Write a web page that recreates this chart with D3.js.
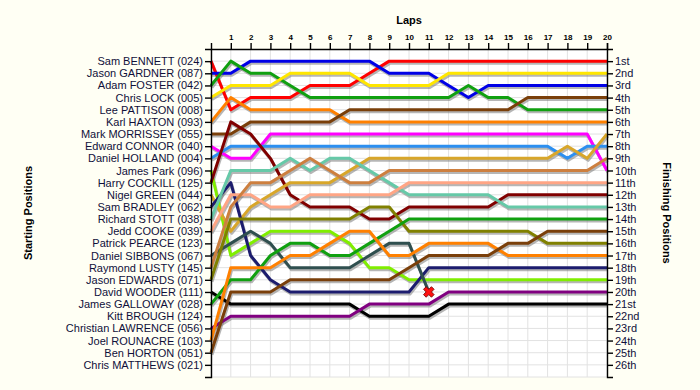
<!DOCTYPE html>
<html lang="en">
<head>
<meta charset="UTF-8">
<title>Lap Chart</title>
<script src="https://cdn.jsdelivr.net/npm/d3@7"></script>
<style>
  body { margin: 0; background: #fffff4; }
  text { font-family: "Liberation Sans", Arial, sans-serif; }
</style>
</head>
<body>
<svg></svg>
<script>
    // riders in starting order (row 1 = pole)
    const riders = [
        'Sam BENNETT (024)', 'Jason GARDNER (087)', 'Adam FOSTER (042)', 'Chris LOCK (005)',
        'Lee PATTISON (008)', 'Karl HAXTON (093)', 'Mark MORRISSEY (055)', 'Edward CONNOR (040)',
        'Daniel HOLLAND (004)', 'James Park (096)', 'Harry COCKILL (125)', 'Nigel GREEN (044)',
        'Sam BRADLEY (062)', 'Richard STOTT (038)', 'Jedd COOKE (039)', 'Patrick PEARCE (123)',
        'Daniel SIBBONS (067)', 'Raymond LUSTY (145)', 'Jason EDWARDS (071)', 'David WOODER (111)',
        'James GALLOWAY (028)', 'Kitt BROUGH (124)', 'Christian LAWRENCE (056)', 'Joel ROUNACRE (103)',
        'Ben HORTON (051)', 'Chris MATTHEWS (021)'
    ];
    const finishLabels = [
        '1st', '2nd', '3rd', '4th', '5th', '6th', '7th', '8th', '9th', '10th', '11th', '12th', '13th',
        '14th', '15th', '16th', '17th', '18th', '19th', '20th', '21st', '22nd', '23rd', '24th', '25th', '26th'
    ];
    const lapTicks = [1, 2, 3, 4, 5, 6, 7, 8, 9, 10, 11, 12, 13, 14, 15, 16, 17, 18, 19, 20];

    // position at lap 0..20 (lap 0 = grid); shorter array = retired
    const bennett   = [1, 5, 4, 4, 4, 3, 3, 3, 2, 1, 1, 1, 1, 1, 1, 1, 1, 1, 1, 1, 1];
    const gardner   = [2, 2, 1, 1, 1, 1, 1, 1, 1, 2, 2, 2, 3, 4, 3, 3, 3, 3, 3, 3, 3];
    const foster    = [3, 1, 2, 2, 3, 4, 4, 4, 4, 4, 4, 4, 4, 3, 4, 4, 5, 5, 5, 5, 5];
    const lock      = [4, 3, 3, 3, 2, 2, 2, 2, 3, 3, 3, 3, 2, 2, 2, 2, 2, 2, 2, 2, 2];
    const haxton    = [6, 4, 5, 5, 5, 5, 5, 6, 6, 6, 6, 6, 6, 6, 6, 6, 6, 6, 6, 6, 6];
    const morrissey = [7, 7, 6, 6, 6, 6, 6, 5, 5, 5, 5, 5, 5, 5, 5, 5, 4, 4, 4, 4, 4];
    const connor    = [8, 9, 9, 7, 7, 7, 7, 7, 7, 7, 7, 7, 7, 7, 7, 7, 7, 7, 7, 7, 10];
    const holland   = [9, 8, 8, 8, 8, 8, 8, 8, 8, 8, 8, 8, 8, 8, 8, 8, 8, 8, 9, 8, 8];
    const park      = [10, 17, 16, 15, 15, 15, 15, 16, 18, 18, 19, 19, 19, 19, 19, 19, 19, 19, 19, 19, 19];
    const cockill   = [11, 6, 7, 9, 12, 13, 13, 13, 14, 14, 13, 13, 13, 13, 13, 12, 12, 12, 12, 12, 12];
    const green     = [12, 15, 13, 12, 11, 11, 11, 10, 9, 9, 9, 9, 9, 9, 9, 9, 9, 9, 8, 9, 7];
    const bradley   = [13, 11, 17, 19, 20, 20, 20, 20, 20, 20, 20, 18, 18, 18, 18, 18, 18, 18, 18, 18, 18];
    const stott     = [14, 10, 10, 10, 9, 10, 9, 9, 10, 11, 12, 12, 12, 12, 12, 13, 13, 13, 13, 13, 13];
    const cooke     = [15, 12, 12, 13, 13, 12, 12, 12, 12, 12, 11, 11, 11, 11, 11, 11, 11, 11, 11, 11, 11];
    const sibbons   = [17, 16, 15, 16, 18, 18, 18, 18, 17, 16, 16, 20];
    const lusty     = [18, 13, 11, 11, 10, 9, 10, 11, 11, 10, 10, 10, 10, 10, 10, 10, 10, 10, 10, 10, 9];
    const edwards   = [19, 14, 14, 14, 14, 14, 14, 14, 13, 13, 15, 15, 15, 15, 15, 15, 15, 16, 16, 16, 16];
    const wooder    = [20, 21, 21, 21, 21, 21, 21, 21, 22, 22, 22, 22, 21, 21, 21, 21, 21, 21, 21, 21, 21];
    const galloway  = [21, 19, 19, 17, 16, 16, 17, 17, 16, 15, 14, 14, 14, 14, 14, 14, 14, 14, 14, 14, 14];
    const lawrence  = [23, 22, 22, 22, 22, 22, 22, 22, 21, 21, 21, 21, 20, 20, 20, 20, 20, 20, 20, 20, 20];
    const rounacre  = [24, 18, 18, 18, 17, 17, 16, 15, 15, 17, 17, 16, 16, 16, 16, 17, 17, 17, 17, 17, 17];
    const horton    = [25, 20, 20, 20, 19, 19, 19, 19, 19, 19, 18, 17, 17, 17, 17, 16, 16, 15, 15, 15, 15];

    const series = [bennett, gardner, foster, lock, haxton, morrissey, connor, holland, park, cockill,
        green, bradley, stott, cooke, sibbons, lusty, edwards, wooder, galloway, lawrence, rounacre, horton];

    // line colour for each entry of series
    const colors = ['#ff0000', '#0000e6', '#10a010', '#ffe600', '#ff8000', '#7a3f0a', '#ff00ff', '#2c8ff0',
        '#80ee00', '#800000', '#d8a62a', '#1c1c6e', '#66c9a8', '#ffa585', '#2f4f4f', '#cd7f3f',
        '#808000', '#000000', '#10a010', '#800080', '#ff8000', '#7a3f0a'];

    const width = 700, height = 390;
    const x = d3.scaleLinear().domain([0, 20]).range([211, 607]);
    const y = d3.scaleLinear().domain([0, 27]).range([49, 377]);

    const svg = d3.select('svg')
        .attr('width', width)
        .attr('height', height)
        .style('background', '#fffff4');

    // plot background + grid
    svg.append('rect')
        .attr('x', x(0)).attr('y', y(0))
        .attr('width', x(20) - x(0)).attr('height', y(27) - y(0))
        .attr('fill', '#ffffff');

    const grid = svg.append('g').attr('stroke', '#e2e2e2').attr('stroke-width', 1);
    grid.selectAll('.v').data(d3.range(0, 21)).join('line')
        .attr('x1', d => x(d)).attr('x2', d => x(d))
        .attr('y1', y(0)).attr('y2', y(27));
    grid.selectAll('.h').data(d3.range(1, 28)).join('line')
        .attr('x1', x(0)).attr('x2', x(20))
        .attr('y1', d => y(d)).attr('y2', d => y(d));

    // lines: grey drop shadow first, then the coloured line
    const line = d3.line().x((d, i) => x(i)).y(d => y(d));

    svg.append('g').selectAll('path').data(series).join('path')
        .attr('d', line)
        .attr('fill', 'none')
        .attr('stroke', '#7a7a7a')
        .attr('stroke-opacity', 0.55)
        .attr('stroke-width', 3)
        .attr('stroke-linejoin', 'round')
        .attr('transform', 'translate(1,2)');

    svg.append('g').selectAll('path').data(series).join('path')
        .attr('d', line)
        .attr('fill', 'none')
        .attr('stroke', (d, i) => colors[i])
        .attr('stroke-width', 3)
        .attr('stroke-linejoin', 'round');

    // retirement marker at the end of a short series
    const retired = series.filter(s => s.length < 21);
    svg.append('g').selectAll('path').data(retired).join('path')
        .attr('d', d3.symbol(d3.symbolCross, 70))
        .attr('transform', d => `translate(${x(d.length - 1)},${y(d[d.length - 1])}) rotate(45)`)
        .attr('fill', '#ff1010')
        .attr('stroke', '#700000')
        .attr('stroke-width', 0.8);

    // axes
    const textColor = '#10103a';
    const axLeft = svg.append('g')
        .attr('transform', `translate(${x(0)},0)`)
        .call(d3.axisLeft(y).tickValues(d3.range(1, 27)).tickFormat(d => riders[d - 1]).tickSize(6).tickSizeOuter(6));
    const axRight = svg.append('g')
        .attr('transform', `translate(${x(20)},0)`)
        .call(d3.axisRight(y).tickValues(d3.range(1, 27)).tickFormat(d => finishLabels[d - 1]).tickSize(6).tickSizeOuter(6));
    const axTop = svg.append('g')
        .attr('transform', `translate(0,${y(0)})`)
        .call(d3.axisTop(x).tickValues(lapTicks).tickSize(6).tickSizeOuter(6));

    [axLeft, axRight].forEach(g => {
        g.selectAll('text').attr('font-size', 11).attr('fill', textColor)
            .attr('font-family', '"Liberation Sans", Arial, sans-serif');
        g.selectAll('line,path').attr('stroke', '#000').attr('stroke-width', 1.4);
    });
    axLeft.selectAll('text').attr('x', -8);
    axRight.selectAll('text').attr('x', 8);
    axTop.selectAll('text').attr('font-size', 8).attr('font-weight', 'bold').attr('fill', '#000')
        .attr('font-family', '"Liberation Sans", Arial, sans-serif');
    axTop.selectAll('line,path').attr('stroke', '#000').attr('stroke-width', 1.4);

    // titles
    svg.append('text')
        .attr('x', (x(0) + x(20)) / 2).attr('y', 24)
        .attr('text-anchor', 'middle')
        .attr('font-size', 11).attr('font-weight', 'bold')
        .text('Laps');
    svg.append('text')
        .attr('transform', 'translate(32,213) rotate(-90)')
        .attr('text-anchor', 'middle')
        .attr('font-size', 11).attr('font-weight', 'bold')
        .text('Starting Positions');
    svg.append('text')
        .attr('transform', 'translate(663,213) rotate(90)')
        .attr('text-anchor', 'middle')
        .attr('font-size', 11).attr('font-weight', 'bold')
        .text('Finishing Positions');
</script>
</body>
</html>
